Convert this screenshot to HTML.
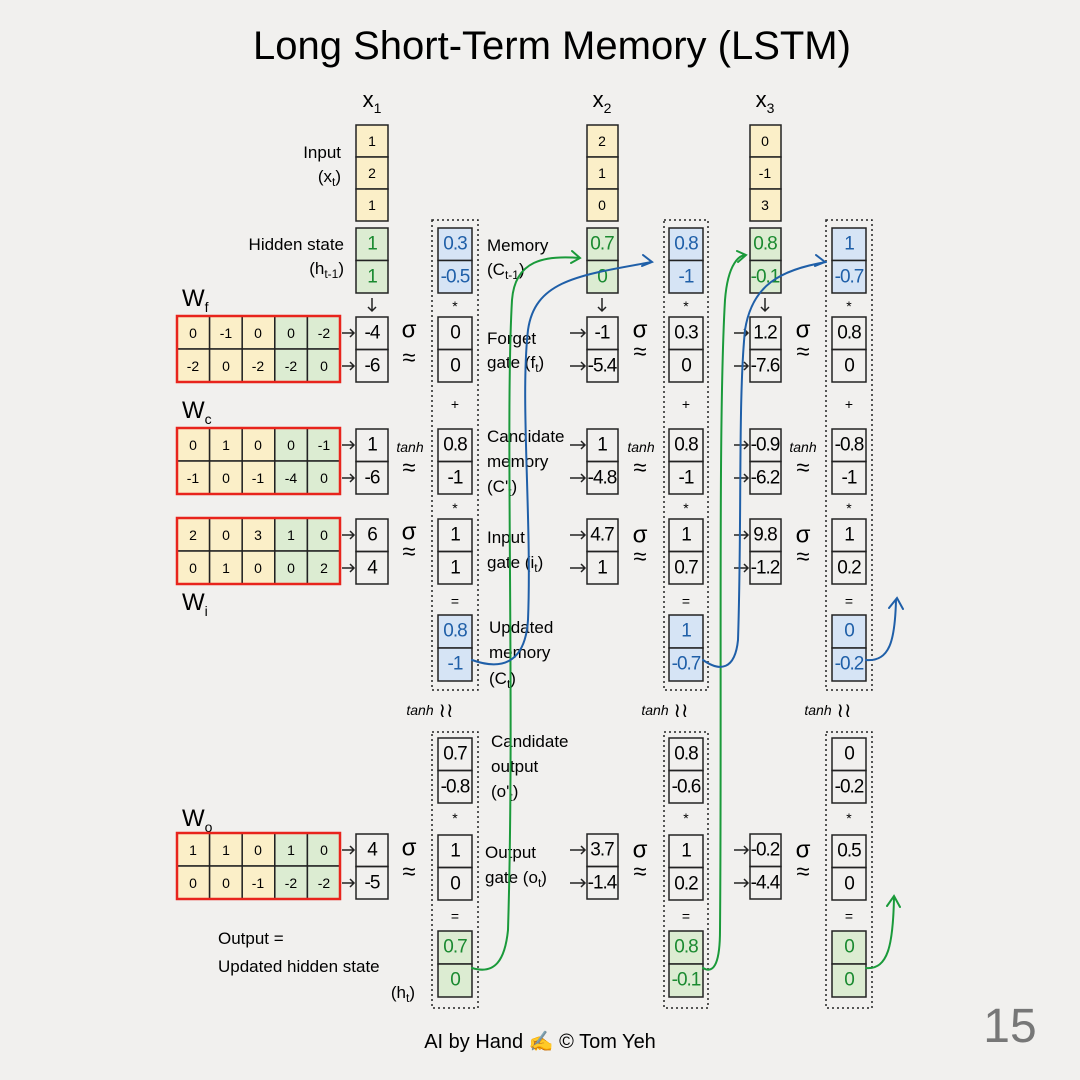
<!DOCTYPE html>
<html><head><meta charset="utf-8"><style>
html,body{margin:0;padding:0;background:#f1f0ee}
svg{display:block}
text{font-family:"Liberation Sans",sans-serif}
.v{font-size:19px;text-anchor:middle;dominant-baseline:central;letter-spacing:-1px}
.w{font-size:14px;text-anchor:middle;dominant-baseline:central;letter-spacing:0}
.l{font-size:17px}
.s{font-size:24px;text-anchor:middle;dominant-baseline:central}
.c rect{stroke:#222;stroke-width:1.5}
.d{fill:none;stroke:#222;stroke-width:1.5;stroke-dasharray:2 3}
</style></head><body>
<svg width="1080" height="1080" viewBox="0 0 1080 1080" xmlns="http://www.w3.org/2000/svg">
<rect width="1080" height="1080" fill="#f1f0ee"/>
<text x="552" y="46" font-size="40" text-anchor="middle" dominant-baseline="central">Long Short-Term Memory (LSTM)</text>

<text x="372" y="107" font-size="22" text-anchor="middle">x<tspan font-size="14" dy="6">1</tspan></text>
<text x="602" y="107" font-size="22" text-anchor="middle">x<tspan font-size="14" dy="6">2</tspan></text>
<text x="765" y="107" font-size="22" text-anchor="middle">x<tspan font-size="14" dy="6">3</tspan></text>

<g class="l" text-anchor="end">
<text x="341" y="158">Input</text><text x="341" y="182">(x<tspan font-size="12" dy="4">t</tspan><tspan dy="-4">)</tspan></text>
<text x="344" y="250">Hidden state</text><text x="344" y="274">(h<tspan font-size="12" dy="4">t-1</tspan><tspan dy="-4">)</tspan></text>
<text x="415" y="998">(h<tspan font-size="12" dy="4">t</tspan><tspan dy="-4">)</tspan></text>
</g>
<text class="l" x="218" y="944">Output =</text>
<text class="l" x="218" y="972">Updated hidden state</text>

<text x="182" y="306" font-size="24">W<tspan font-size="14" dy="6">f</tspan></text>
<text x="182" y="418" font-size="24">W<tspan font-size="14" dy="6">c</tspan></text>
<text x="182" y="610" font-size="24">W<tspan font-size="14" dy="6">i</tspan></text>
<text x="182" y="826" font-size="24">W<tspan font-size="14" dy="6">o</tspan></text>

<g class="c">
<g id="m1">
<rect x="177" y="316" width="32.6" height="33" fill="#fbefc8"/><rect x="209.6" y="316" width="32.6" height="33" fill="#fbefc8"/><rect x="242.2" y="316" width="32.6" height="33" fill="#fbefc8"/><rect x="274.8" y="316" width="32.6" height="33" fill="#dcecd2"/><rect x="307.4" y="316" width="32.6" height="33" fill="#dcecd2"/>
<rect x="177" y="349" width="32.6" height="33" fill="#fbefc8"/><rect x="209.6" y="349" width="32.6" height="33" fill="#fbefc8"/><rect x="242.2" y="349" width="32.6" height="33" fill="#fbefc8"/><rect x="274.8" y="349" width="32.6" height="33" fill="#dcecd2"/><rect x="307.4" y="349" width="32.6" height="33" fill="#dcecd2"/>
</g>
<use href="#m1" y="112"/><use href="#m1" y="202"/><use href="#m1" y="517"/>
</g>
<g fill="none" stroke="#e8241c" stroke-width="2.5">
<rect x="177" y="316" width="163" height="66"/><rect x="177" y="428" width="163" height="66"/><rect x="177" y="518" width="163" height="66"/><rect x="177" y="833" width="163" height="66"/>
</g>
<g class="w">
<text x="193" y="333">0</text><text x="226" y="333">-1</text><text x="258" y="333">0</text><text x="291" y="333">0</text><text x="324" y="333">-2</text>
<text x="193" y="366">-2</text><text x="226" y="366">0</text><text x="258" y="366">-2</text><text x="291" y="366">-2</text><text x="324" y="366">0</text>
<text x="193" y="445">0</text><text x="226" y="445">1</text><text x="258" y="445">0</text><text x="291" y="445">0</text><text x="324" y="445">-1</text>
<text x="193" y="478">-1</text><text x="226" y="478">0</text><text x="258" y="478">-1</text><text x="291" y="478">-4</text><text x="324" y="478">0</text>
<text x="193" y="535">2</text><text x="226" y="535">0</text><text x="258" y="535">3</text><text x="291" y="535">1</text><text x="324" y="535">0</text>
<text x="193" y="568">0</text><text x="226" y="568">1</text><text x="258" y="568">0</text><text x="291" y="568">0</text><text x="324" y="568">2</text>
<text x="193" y="850">1</text><text x="226" y="850">1</text><text x="258" y="850">0</text><text x="291" y="850">1</text><text x="324" y="850">0</text>
<text x="193" y="883">0</text><text x="226" y="883">0</text><text x="258" y="883">-1</text><text x="291" y="883">-2</text><text x="324" y="883">-2</text>
</g>

<rect class="d" x="432" y="220" width="46" height="470"/><rect class="d" x="432" y="732" width="46" height="276"/>
<rect class="d" x="664" y="220" width="44" height="470"/><rect class="d" x="664" y="732" width="44" height="276"/>
<rect class="d" x="826" y="220" width="46" height="470"/><rect class="d" x="826" y="732" width="46" height="276"/>

<g class="c">
<rect x="356" y="125" width="32" height="32" fill="#fbefc8"/><rect x="356" y="157" width="32" height="32" fill="#fbefc8"/><rect x="356" y="189" width="32" height="32" fill="#fbefc8"/>
<rect x="356" y="228" width="32" height="32.5" fill="#dcecd2"/><rect x="356" y="260.5" width="32" height="32.5" fill="#dcecd2"/>
<rect x="356" y="317" width="32" height="32.5" fill="none"/><rect x="356" y="349.5" width="32" height="32.5" fill="none"/>
<rect x="356" y="429" width="32" height="32.5" fill="none"/><rect x="356" y="461.5" width="32" height="32.5" fill="none"/>
<rect x="356" y="519" width="32" height="32.5" fill="none"/><rect x="356" y="551.5" width="32" height="32.5" fill="none"/>
<rect x="356" y="834" width="32" height="32.5" fill="none"/><rect x="356" y="866.5" width="32" height="32.5" fill="none"/>
<rect x="587" y="125" width="31" height="32" fill="#fbefc8"/><rect x="587" y="157" width="31" height="32" fill="#fbefc8"/><rect x="587" y="189" width="31" height="32" fill="#fbefc8"/>
<rect x="587" y="228" width="31" height="32.5" fill="#dcecd2"/><rect x="587" y="260.5" width="31" height="32.5" fill="#dcecd2"/>
<rect x="587" y="317" width="31" height="32.5" fill="none"/><rect x="587" y="349.5" width="31" height="32.5" fill="none"/>
<rect x="587" y="429" width="31" height="32.5" fill="none"/><rect x="587" y="461.5" width="31" height="32.5" fill="none"/>
<rect x="587" y="519" width="31" height="32.5" fill="none"/><rect x="587" y="551.5" width="31" height="32.5" fill="none"/>
<rect x="587" y="834" width="31" height="32.5" fill="none"/><rect x="587" y="866.5" width="31" height="32.5" fill="none"/>
<rect x="750" y="125" width="31" height="32" fill="#fbefc8"/><rect x="750" y="157" width="31" height="32" fill="#fbefc8"/><rect x="750" y="189" width="31" height="32" fill="#fbefc8"/>
<rect x="750" y="228" width="31" height="32.5" fill="#dcecd2"/><rect x="750" y="260.5" width="31" height="32.5" fill="#dcecd2"/>
<rect x="750" y="317" width="31" height="32.5" fill="none"/><rect x="750" y="349.5" width="31" height="32.5" fill="none"/>
<rect x="750" y="429" width="31" height="32.5" fill="none"/><rect x="750" y="461.5" width="31" height="32.5" fill="none"/>
<rect x="750" y="519" width="31" height="32.5" fill="none"/><rect x="750" y="551.5" width="31" height="32.5" fill="none"/>
<rect x="750" y="834" width="31" height="32.5" fill="none"/><rect x="750" y="866.5" width="31" height="32.5" fill="none"/>
</g>
<g class="c" id="dc">
<rect x="438" y="228" width="34" height="32.5" fill="#d6e4f5"/><rect x="438" y="260.5" width="34" height="32.5" fill="#d6e4f5"/>
<rect x="438" y="317" width="34" height="32.5" fill="none"/><rect x="438" y="349.5" width="34" height="32.5" fill="none"/>
<rect x="438" y="429" width="34" height="32.5" fill="none"/><rect x="438" y="461.5" width="34" height="32.5" fill="none"/>
<rect x="438" y="519" width="34" height="32.5" fill="none"/><rect x="438" y="551.5" width="34" height="32.5" fill="none"/>
<rect x="438" y="615" width="34" height="33" fill="#d6e4f5"/><rect x="438" y="648" width="34" height="33" fill="#d6e4f5"/>
<rect x="438" y="738" width="34" height="32.5" fill="none"/><rect x="438" y="770.5" width="34" height="32.5" fill="none"/>
<rect x="438" y="835" width="34" height="32.5" fill="none"/><rect x="438" y="867.5" width="34" height="32.5" fill="none"/>
<rect x="438" y="931" width="34" height="33" fill="#dcecd2"/><rect x="438" y="964" width="34" height="33" fill="#dcecd2"/>
</g>
<use href="#dc" x="231"/><use href="#dc" x="394"/>

<g class="v">
<text class="w" x="372" y="141">1</text><text class="w" x="372" y="173">2</text><text class="w" x="372" y="205">1</text>
<text x="372" y="244" fill="#1a8a30">1</text><text x="372" y="277" fill="#1a8a30">1</text>
<text x="372" y="333">-4</text><text x="372" y="366">-6</text>
<text x="372" y="445">1</text><text x="372" y="478">-6</text>
<text x="372" y="535">6</text><text x="372" y="568">4</text>
<text x="372" y="850">4</text><text x="372" y="883">-5</text>
<text class="w" x="602" y="141">2</text><text class="w" x="602" y="173">1</text><text class="w" x="602" y="205">0</text>
<text x="602" y="244" fill="#1a8a30">0.7</text><text x="602" y="277" fill="#1a8a30">0</text>
<text x="602" y="333">-1</text><text x="602" y="366">-5.4</text>
<text x="602" y="445">1</text><text x="602" y="478">-4.8</text>
<text x="602" y="535">4.7</text><text x="602" y="568">1</text>
<text x="602" y="850">3.7</text><text x="602" y="883">-1.4</text>
<text class="w" x="765" y="141">0</text><text class="w" x="765" y="173">-1</text><text class="w" x="765" y="205">3</text>
<text x="765" y="244" fill="#1a8a30">0.8</text><text x="765" y="277" fill="#1a8a30">-0.1</text>
<text x="765" y="333">1.2</text><text x="765" y="366">-7.6</text>
<text x="765" y="445">-0.9</text><text x="765" y="478">-6.2</text>
<text x="765" y="535">9.8</text><text x="765" y="568">-1.2</text>
<text x="765" y="850">-0.2</text><text x="765" y="883">-4.4</text>
<text x="455" y="244" fill="#1f5fa8">0.3</text><text x="455" y="277" fill="#1f5fa8">-0.5</text>
<text x="455" y="333">0</text><text x="455" y="366">0</text>
<text x="455" y="445">0.8</text><text x="455" y="478">-1</text>
<text x="455" y="535">1</text><text x="455" y="568">1</text>
<text x="455" y="631" fill="#1f5fa8">0.8</text><text x="455" y="664" fill="#1f5fa8">-1</text>
<text x="455" y="754">0.7</text><text x="455" y="787">-0.8</text>
<text x="455" y="851">1</text><text x="455" y="884">0</text>
<text x="455" y="947" fill="#1a8a30">0.7</text><text x="455" y="980" fill="#1a8a30">0</text>
<text x="686" y="244" fill="#1f5fa8">0.8</text><text x="686" y="277" fill="#1f5fa8">-1</text>
<text x="686" y="333">0.3</text><text x="686" y="366">0</text>
<text x="686" y="445">0.8</text><text x="686" y="478">-1</text>
<text x="686" y="535">1</text><text x="686" y="568">0.7</text>
<text x="686" y="631" fill="#1f5fa8">1</text><text x="686" y="664" fill="#1f5fa8">-0.7</text>
<text x="686" y="754">0.8</text><text x="686" y="787">-0.6</text>
<text x="686" y="851">1</text><text x="686" y="884">0.2</text>
<text x="686" y="947" fill="#1a8a30">0.8</text><text x="686" y="980" fill="#1a8a30">-0.1</text>
<text x="849" y="244" fill="#1f5fa8">1</text><text x="849" y="277" fill="#1f5fa8">-0.7</text>
<text x="849" y="333">0.8</text><text x="849" y="366">0</text>
<text x="849" y="445">-0.8</text><text x="849" y="478">-1</text>
<text x="849" y="535">1</text><text x="849" y="568">0.2</text>
<text x="849" y="631" fill="#1f5fa8">0</text><text x="849" y="664" fill="#1f5fa8">-0.2</text>
<text x="849" y="754">0</text><text x="849" y="787">-0.2</text>
<text x="849" y="851">0.5</text><text x="849" y="884">0</text>
<text x="849" y="947" fill="#1a8a30">0</text><text x="849" y="980" fill="#1a8a30">0</text>
</g>

<g class="s">
<text x="409" y="330">σ</text><text x="409" y="358">≈</text>
<text x="409" y="468">≈</text>
<text x="409" y="532">σ</text><text x="409" y="552">≈</text>
<text x="409" y="848">σ</text><text x="409" y="872">≈</text>
<text x="640" y="330">σ</text><text x="640" y="352">≈</text>
<text x="640" y="468">≈</text>
<text x="640" y="535">σ</text><text x="640" y="557">≈</text>
<text x="640" y="850">σ</text><text x="640" y="872">≈</text>
<text x="803" y="330">σ</text><text x="803" y="352">≈</text>
<text x="803" y="468">≈</text>
<text x="803" y="535">σ</text><text x="803" y="557">≈</text>
<text x="803" y="850">σ</text><text x="803" y="872">≈</text>
</g>
<g font-size="14" font-style="italic" text-anchor="middle">
<text x="410" y="452">tanh</text><text x="641" y="452">tanh</text><text x="803" y="452">tanh</text>
<text x="420" y="715">tanh</text><text x="655" y="715">tanh</text><text x="818" y="715">tanh</text>
</g>
<g font-size="20" text-anchor="middle">
<text x="446" y="717">≀≀</text><text x="681" y="717">≀≀</text><text x="844" y="717">≀≀</text>
</g>
<g class="w" font-size="20">
<text x="455" y="306">*</text><text x="686" y="306">*</text><text x="849" y="306">*</text>
<text x="455" y="404">+</text><text x="686" y="404">+</text><text x="849" y="404">+</text>
<text x="455" y="508">*</text><text x="686" y="508">*</text><text x="849" y="508">*</text>
<text x="455" y="601">=</text><text x="686" y="601">=</text><text x="849" y="601">=</text>
<text x="455" y="818">*</text><text x="686" y="818">*</text><text x="849" y="818">*</text>
<text x="455" y="916">=</text><text x="686" y="916">=</text><text x="849" y="916">=</text>
</g>

<g class="l">
<text x="487" y="251">Memory</text><text x="487" y="275">(C<tspan font-size="12" dy="4">t-1</tspan><tspan dy="-4">)</tspan></text>
<text x="487" y="344">Forget</text><text x="487" y="368">gate (f<tspan font-size="12" dy="4">t</tspan><tspan dy="-4">)</tspan></text>
<text x="487" y="442">Candidate</text><text x="487" y="467">memory</text><text x="487" y="492">(C'<tspan font-size="12" dy="4">t</tspan><tspan dy="-4">)</tspan></text>
<text x="487" y="543">Input</text><text x="487" y="568">gate (i<tspan font-size="12" dy="4">t</tspan><tspan dy="-4">)</tspan></text>
<text x="489" y="633">Updated</text><text x="489" y="658">memory</text><text x="489" y="684">(C<tspan font-size="12" dy="4">t</tspan><tspan dy="-4">)</tspan></text>
<text x="491" y="747">Candidate</text><text x="491" y="772">output</text><text x="491" y="797">(o'<tspan font-size="12" dy="4">t</tspan><tspan dy="-4">)</tspan></text>
<text x="485" y="858">Output</text><text x="485" y="883">gate (o<tspan font-size="12" dy="4">t</tspan><tspan dy="-4">)</tspan></text>
</g>

<g stroke="#222" stroke-width="1.5" fill="none">
<path d="M342 333h12M350 329l4 4-4 4M342 366h12M350 362l4 4-4 4"/>
<path d="M342 445h12M350 441l4 4-4 4M342 478h12M350 474l4 4-4 4"/>
<path d="M342 535h12M350 531l4 4-4 4M342 568h12M350 564l4 4-4 4"/>
<path d="M342 850h12M350 846l4 4-4 4M342 883h12M350 879l4 4-4 4"/>
<path d="M570 333h15M581 329l4 4-4 4M570 366h15M581 362l4 4-4 4"/>
<path d="M570 445h15M581 441l4 4-4 4M570 478h15M581 474l4 4-4 4"/>
<path d="M570 535h15M581 531l4 4-4 4M570 568h15M581 564l4 4-4 4"/>
<path d="M570 850h15M581 846l4 4-4 4M570 883h15M581 879l4 4-4 4"/>
<path d="M734 333h14M744 329l4 4-4 4M734 366h14M744 362l4 4-4 4"/>
<path d="M734 445h14M744 441l4 4-4 4M734 478h14M744 474l4 4-4 4"/>
<path d="M734 535h14M744 531l4 4-4 4M734 568h14M744 564l4 4-4 4"/>
<path d="M734 850h14M744 846l4 4-4 4M734 883h14M744 879l4 4-4 4"/>
<path d="M372 298v13M368 307l4 4 4-4M602 298v13M598 307l4 4 4-4M765 298v13M761 307l4 4 4-4"/>
</g>

<g fill="none" stroke-width="2" stroke-linecap="round">
<path stroke="#1a9a3a" d="M472 968C495 975 505 960 508 930C515 700 505 420 512 300C515 260 545 255 580 258M572 251l8 7-9 5"/>
<path stroke="#1f5fa8" d="M472 660C500 670 525 665 528 620C532 520 520 400 528 330C535 280 580 275 652 262M643 255l9 7-10 4"/>
<path stroke="#1a9a3a" d="M703 968C715 975 720 960 720 930C722 700 718 420 725 300C728 262 740 255 746 255M737 251l9 4-8 7"/>
<path stroke="#1f5fa8" d="M703 660C720 672 735 670 738 640C742 520 738 400 745 330C752 285 780 270 826 262M816 255l9 7-10 4"/>
<path stroke="#1f5fa8" d="M866 660C890 662 895 640 896 600M889 608l8-10 6 11"/>
<path stroke="#1a9a3a" d="M866 968C888 970 893 945 894 898M887 906l7-10 6 11"/>
</g>

<text x="540" y="1048" font-size="20" text-anchor="middle">AI by Hand ✍ © Tom Yeh</text>
<text x="1010" y="1042" font-size="48" fill="#777" text-anchor="middle">15</text>
</svg>
</body></html>
